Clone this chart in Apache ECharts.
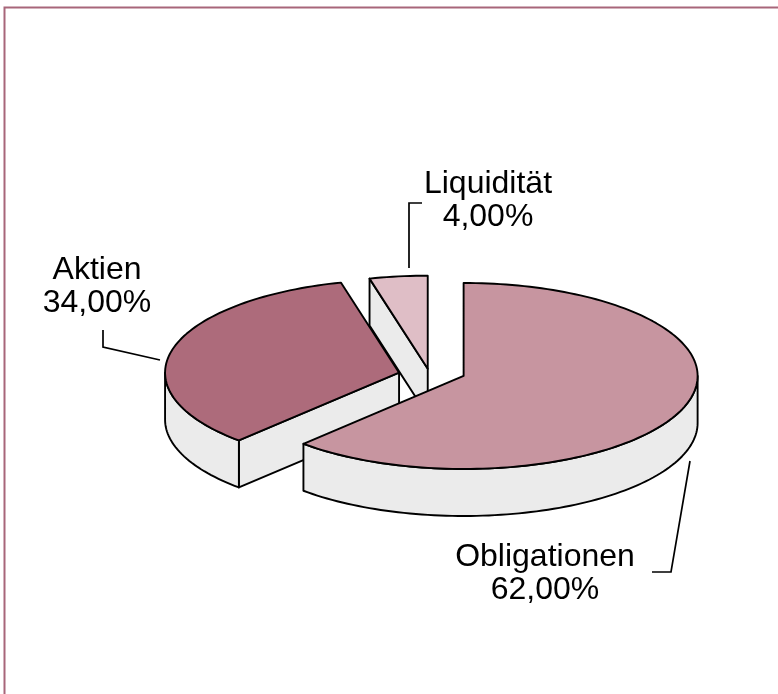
<!DOCTYPE html>
<html><head><meta charset="utf-8">
<script src="https://cdn.jsdelivr.net/npm/echarts@6/dist/echarts.min.js"></script>
<style>html,body{margin:0;padding:0;background:#fff}#c{width:778px;height:694px}</style>
</head><body><div id="c"></div>
<script>
// ---- data ----
const categories = ['Obligationen', 'Aktien', 'Liquidität'];
const values = [62, 34, 4];

// ---- style / layout ----
const topColors = ['#c795a0', '#ad6b7b', '#dfbec6'];
const sideColor = '#ebebeb';
const FONT = '"Liberation Sans", Arial, Helvetica, sans-serif';
const CX = 432, CY = 374, RX = 234, RY = 93, DEPTH = 47, EXPL = 34, EXPLY = 5.35;
const D2R = Math.PI / 180;

const total = values.reduce((a, b) => a + b, 0);
const starts = [];
{ let acc = 0; values.forEach(v => { starts.push(acc / total * 360); acc += v; }); }

function pt(cx, cy, a, dy) { return [cx + RX * Math.sin(a * D2R), cy - RY * Math.cos(a * D2R) + (dy || 0)]; }
function arc(cx, cy, a0, a1, dy) {
  const n = Math.max(2, Math.ceil(Math.abs(a1 - a0) / 1.5));
  const p = [];
  for (let i = 0; i <= n; i++) p.push(pt(cx, cy, a0 + (a1 - a0) * i / n, dy));
  return p;
}
function fmt(v) { return (v / total * 100).toFixed(2).replace('.', ',') + '%'; }

// back-to-front order
const order = values.map((v, i) => i).sort((i, j) => {
  const mi = starts[i] + values[i] / total * 180, mj = starts[j] + values[j] / total * 180;
  return -Math.cos(mi * D2R) - (-Math.cos(mj * D2R));
});

const lineStyle = { stroke: '#000', lineWidth: 1.9, lineJoin: 'round' };

function renderItem(params, api) {
  const i = api.value(1);
  const v = api.value(0);
  const a0 = starts[i], a1 = a0 + v / total * 360, mid = (a0 + a1) / 2;
  const cx = CX + EXPL * Math.sin(mid * D2R);
  const cy = CY - EXPLY * Math.cos(mid * D2R);
  const rank = order.indexOf(i);
  const children = [];
  const C = [cx, cy], Cb = [cx, cy + DEPTH];
  // radial walls
  if (Math.sin(a0 * D2R) < -1e-6) {
    const P = pt(cx, cy, a0), Pb = pt(cx, cy, a0, DEPTH);
    children.push({ type: 'polygon', z2: rank * 10, shape: { points: [C, P, Pb, Cb] }, style: Object.assign({ fill: sideColor }, lineStyle) });
  }
  if (Math.sin(a1 * D2R) > 1e-6) {
    const P = pt(cx, cy, a1), Pb = pt(cx, cy, a1, DEPTH);
    children.push({ type: 'polygon', z2: rank * 10, shape: { points: [C, P, Pb, Cb] }, style: Object.assign({ fill: sideColor }, lineStyle) });
  }
  // outer wall (front half)
  const s = Math.max(a0, 90), e = Math.min(a1, 270);
  if (e > s) {
    const pts = arc(cx, cy, s, e, 0).concat(arc(cx, cy, e, s, DEPTH));
    children.push({ type: 'polygon', z2: rank * 10 + 1, shape: { points: pts }, style: Object.assign({ fill: sideColor }, lineStyle) });
  }
  // top face
  const topPts = [C].concat(arc(cx, cy, a0, a1, 0));
  children.push({ type: 'polygon', z2: rank * 10 + 2, shape: { points: topPts }, style: Object.assign({ fill: topColors[i] }, lineStyle) });
  return { type: 'group', children };
}

const chart = echarts.init(document.getElementById('c'), null, { renderer: 'canvas' });
const labelStyle = (txt, x, y) => ({
  type: 'text', x, y, z: 10,
  style: { text: txt, fill: '#000', font: '32px ' + FONT, textAlign: 'center', textVerticalAlign: 'middle', lineHeight: 33 }
});
const leader = pts => ({ type: 'polyline', z: 10, shape: { points: pts }, style: { stroke: '#000', lineWidth: 1.7, fill: null } });

chart.setOption({
  animation: false,
  backgroundColor: '#fff',
  series: [{
    type: 'custom',
    coordinateSystem: 'none',
    renderItem,
    data: order.map(i => [values[i], i])
  }],
  graphic: [
    { type: 'polyline', shape: { points: [[4.5, 694], [4.5, 7.5], [778, 7.5]] }, style: { stroke: '#a8667a', lineWidth: 2, fill: null } },
    labelStyle(categories[2] + '\n' + fmt(values[2]), 488, 201),
    labelStyle(categories[1] + '\n' + fmt(values[1]), 97, 287),
    labelStyle(categories[0] + '\n' + fmt(values[0]), 545, 574),
    leader([[422, 203], [409, 203], [409, 268]]),
    leader([[103, 330], [103, 347], [160, 360]]),
    leader([[652, 572], [671, 572], [690, 461]])
  ]
});
</script></body></html>
